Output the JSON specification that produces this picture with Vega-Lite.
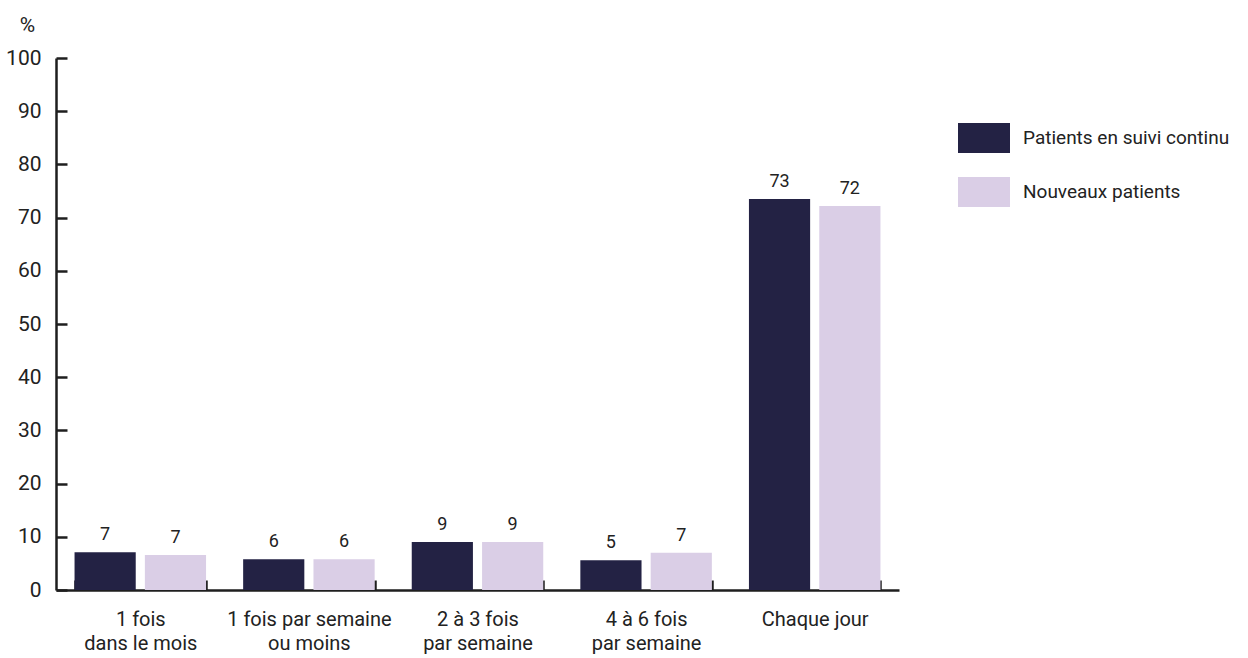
{
  "$schema": "https://vega.github.io/schema/vega-lite/v6.json",
  "width": 843,
  "height": 532,
  "autosize": "none",
  "padding": {"left": 56, "top": 58, "right": 349, "bottom": 68},
  "background": "white",
  "config": {
    "view": {"stroke": null},
    "font": "Roboto, sans-serif",
    "axis": {"grid": false, "labelColor": "#222222", "titleColor": "#222222", "domainColor": "#1e1e1e", "tickColor": "#1e1e1e", "domainWidth": 2.5, "tickWidth": 2.5, "labelFont": "Roboto", "titleFont": "Roboto", "labelLimit": 0},
    "legend": {"labelFont": "Roboto", "labelLimit": 0}
  },
  "data": {
    "values": [
      {"cat": "1 fois|dans le mois", "series": "Patients en suivi continu", "value": 7.1, "label": "7"},
      {"cat": "1 fois|dans le mois", "series": "Nouveaux patients", "value": 6.6, "label": "7"},
      {"cat": "1 fois par semaine|ou moins", "series": "Patients en suivi continu", "value": 5.8, "label": "6"},
      {"cat": "1 fois par semaine|ou moins", "series": "Nouveaux patients", "value": 5.8, "label": "6"},
      {"cat": "2 à 3 fois|par semaine", "series": "Patients en suivi continu", "value": 9.0, "label": "9"},
      {"cat": "2 à 3 fois|par semaine", "series": "Nouveaux patients", "value": 9.0, "label": "9"},
      {"cat": "4 à 6 fois|par semaine", "series": "Patients en suivi continu", "value": 5.6, "label": "5"},
      {"cat": "4 à 6 fois|par semaine", "series": "Nouveaux patients", "value": 7.0, "label": "7"},
      {"cat": "Chaque jour", "series": "Patients en suivi continu", "value": 73.5, "label": "73"},
      {"cat": "Chaque jour", "series": "Nouveaux patients", "value": 72.2, "label": "72"}
    ]
  },
  "encoding": {
    "x": {
      "field": "cat", "type": "nominal",
      "sort": ["1 fois|dans le mois", "1 fois par semaine|ou moins", "2 à 3 fois|par semaine", "4 à 6 fois|par semaine", "Chaque jour"],
      "scale": {"paddingInner": 0.22, "paddingOuter": 0.11},
      "axis": {"title": null, "labelAngle": 0, "labelExpr": "split(datum.label, '|')", "tickBand": "extent", "tickSize": -10, "labelPadding": 29, "labelFontSize": 20, "labelLineHeight": 24, "labelBaseline": "top"}
    },
    "xOffset": {
      "field": "series", "type": "nominal",
      "sort": ["Patients en suivi continu", "Nouveaux patients"],
      "scale": {"paddingInner": 0.13, "paddingOuter": 0}
    },
    "y": {
      "field": "value", "type": "quantitative",
      "scale": {"domain": [0, 100], "nice": false},
      "axis": {"values": [0, 10, 20, 30, 40, 50, 60, 70, 80, 90, 100], "tickSize": -11, "labelPadding": 26, "labelFontSize": 21, "title": "%", "titleAngle": 0, "titleX": -29, "titleY": -27, "titleAlign": "center", "titleBaseline": "alphabetic", "titleFontWeight": "normal", "titleFontSize": 21}
    }
  },
  "layer": [
    {
      "mark": {"type": "bar"},
      "encoding": {
        "color": {
          "field": "series", "type": "nominal",
          "scale": {"domain": ["Patients en suivi continu", "Nouveaux patients"], "range": ["#232244", "#dacee6"]},
          "legend": {"title": null, "orient": "none", "legendX": 902, "legendY": 54, "symbolType": "M-1,-0.58H1V0.58H-1Z", "symbolSize": 2704, "symbolStrokeWidth": 0, "labelFontSize": 19, "labelColor": "#222222", "labelOffset": 13, "rowPadding": 12}
        }
      }
    },
    {
      "mark": {"type": "text", "baseline": "alphabetic", "dy": -12, "fontSize": 18, "color": "#222222", "font": "Roboto"},
      "encoding": {"text": {"field": "label"}}
    }
  ]
}
